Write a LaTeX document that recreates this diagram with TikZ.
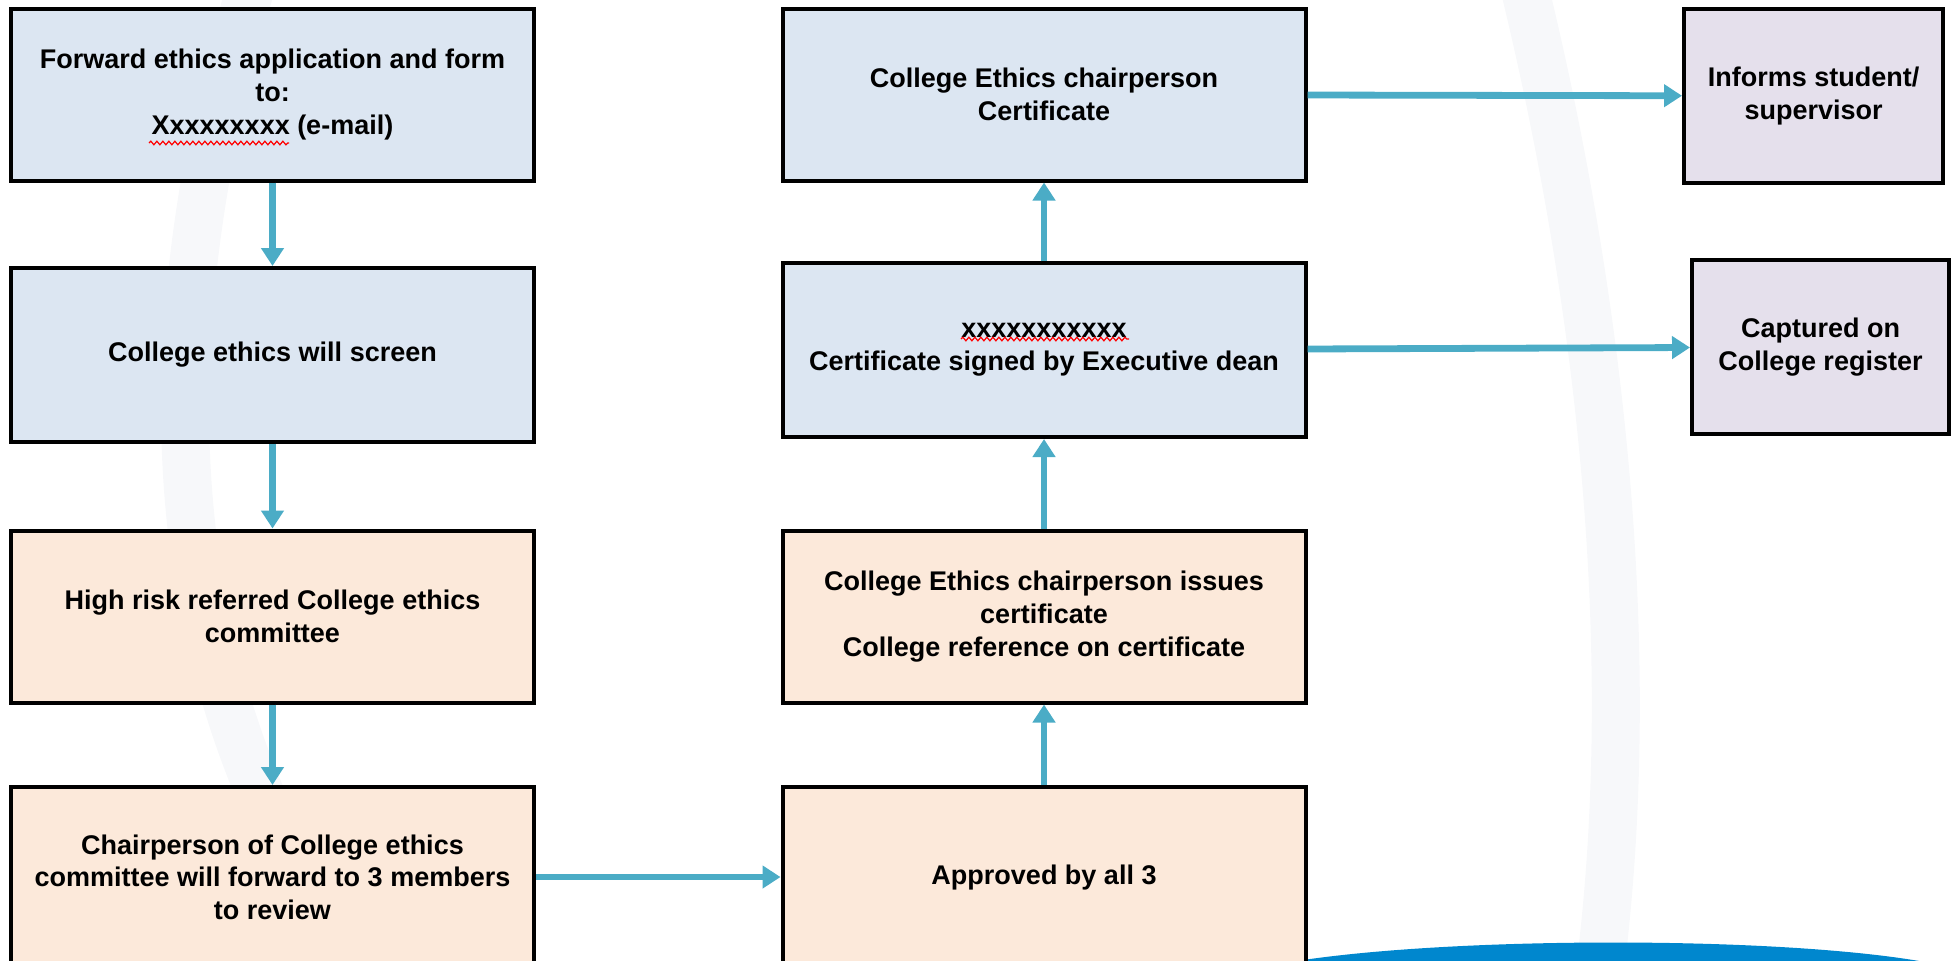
\documentclass[tikz,border=0pt]{standalone}
\usepackage{fontspec}
\setmainfont{Liberation Sans}
\usetikzlibrary{arrows.meta, decorations.pathmorphing}

\definecolor{boxblue}{HTML}{DCE6F2}
\definecolor{boxorange}{HTML}{FCE9DA}
\definecolor{boxlilac}{HTML}{E5E0EC}
\definecolor{arrowblue}{HTML}{4BACC6}
\definecolor{swooshblue}{HTML}{0087CE}
\definecolor{faintgrey}{HTML}{F7F8FA}

\begin{document}
\begin{tikzpicture}[x=0.5pt, y=-0.5pt,
    box/.style={draw, line width=2pt, minimum width=261.5pt, minimum height=86pt,
        align=center, inner sep=0pt, font=\fontsize{13.5}{16.3}\selectfont\bfseries},
    flow/.style={draw=arrowblue, line width=3.4pt, -{Triangle[width=11pt,length=9pt]}},
    squiggle/.style={red, line width=0.6pt, decorate,
        decoration={snake, amplitude=0.9pt, segment length=3pt}}]
    \useasboundingbox (0,0) rectangle (1952,960);

    % faint background bands
    \draw[faintgrey, line width=24pt] (250,-10) .. controls (150,330) and (150,680) .. (360,970);
    \draw[faintgrey, line width=24pt] (1525,-10) .. controls (1600,300) and (1640,650) .. (1600,970);
    % blue swoosh at the bottom
    \fill[swooshblue] (1290,962) .. controls (1450,936) and (1780,936) .. (1925,962) -- cycle;

    % left column
    \node[box, fill=boxblue] (forward) at (272.5,94.5)
        {Forward ethics application and form\\to:\\Xxxxxxxxx (e-mail)};
    \node[box, fill=boxblue, minimum height=87pt] (screen) at (272.5,355) {College ethics will screen};
    \node[box, fill=boxorange] (highrisk) at (272.5,616.5) {High risk referred College ethics\\committee};
    \node[box, fill=boxorange, minimum height=90pt] (chair) at (272.5,877)
        {Chairperson of College ethics\\committee will forward to 3 members\\to review};

    % middle column
    \node[box, fill=boxorange, minimum height=90pt] (approved) at (1044,877) {Approved by all 3};
    \node[box, fill=boxorange] (issues) at (1044,616.5)
        {College Ethics chairperson issues\\certificate\\College reference on certificate};
    \node[box, fill=boxblue, minimum height=87pt] (signed) at (1044,350)
        {xxxxxxxxxxx\\Certificate signed by Executive dean};
    \node[box, fill=boxblue] (certificate) at (1044,94.5) {College Ethics chairperson\\Certificate};

    % right column
    \node[box, fill=boxlilac, minimum width=129.5pt, minimum height=87pt] (informs) at (1813.5,96)
        {Informs student/\\supervisor};
    \node[box, fill=boxlilac, minimum width=128.5pt, minimum height=87pt] (captured) at (1820.5,347)
        {Captured on\\College register};

    % red spelling marks under the placeholders
    \draw[squiggle] (149,143) -- (289,143);
    \draw[squiggle] (961,339) -- (1129,339);

    % arrows down the left column
    \draw[flow] (forward) -- (screen);
    \draw[flow] (screen) -- (highrisk);
    \draw[flow] (highrisk) -- (chair);
    % across and up the middle column
    \draw[flow] (chair) -- (approved);
    \draw[flow] (approved) -- (issues);
    \draw[flow] (issues) -- (signed);
    \draw[flow] (signed) -- (certificate);
    % out to the right column
    \draw[flow] (certificate) -- (informs);
    \draw[flow] (signed) -- (captured);
\end{tikzpicture}
\end{document}
